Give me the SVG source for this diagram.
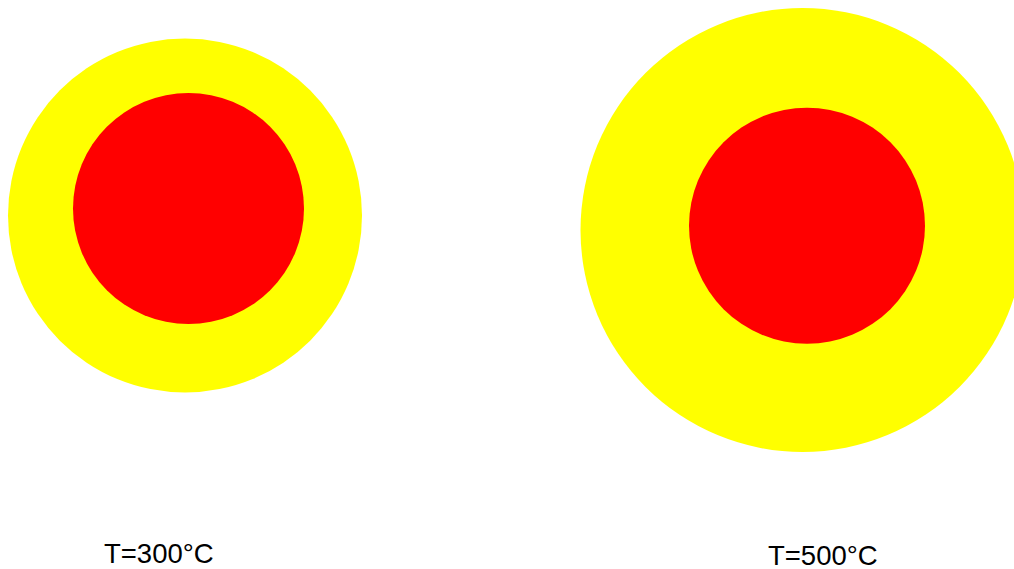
<svg xmlns="http://www.w3.org/2000/svg" width="1014" height="569" viewBox="0 0 1014 569">
<style>
.outer{fill:#ffff00}
.inner{fill:#ff0000}
.lbl{font-family:"Liberation Sans",Arial,sans-serif;font-size:27.5px;fill:#000}
</style>
<rect width="1014" height="569" fill="#fff"/>
<g id="particle-300">
<circle class="outer" cx="185" cy="215.5" r="177"/>
<circle class="inner" cx="188.5" cy="208.5" r="115.5"/>
</g>
<g id="particle-500">
<circle class="outer" cx="802.5" cy="230" r="222"/>
<circle class="inner" cx="807" cy="225.7" r="118"/>
</g>
<g id="labels">
<text class="lbl" x="104" y="563">T=300°C</text>
<text class="lbl" x="768" y="565">T=500°C</text>
</g>
<g id="connectors"/>
</svg>
